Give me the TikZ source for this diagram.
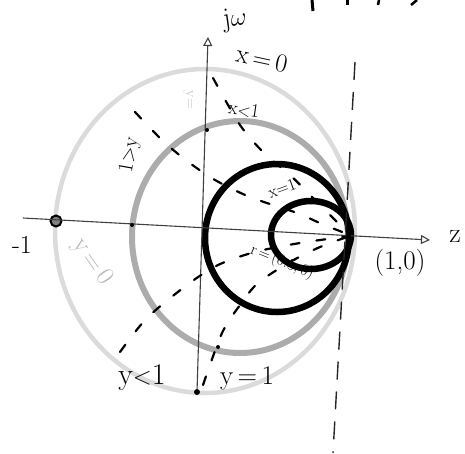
\documentclass[tikz,border=0pt]{standalone}
\usetikzlibrary{arrows.meta}
\begin{document}
\begin{tikzpicture}[x=1pt,y=-1pt,
  lbl/.style={font=\fontsize{26}{28}\selectfont, inner sep=0pt},
  sm/.style={font=\fontsize{19}{21}\selectfont, inner sep=0pt},
  axisline/.style={draw=black!75, line width=1.1pt},
  hatch/.style={draw=black, line width=2.2pt, dash pattern=on 9pt off 17pt, line cap=round},
  thickc/.style={draw=black, line width=6.5pt},
  grayc/.style={draw=gray!65, line width=6pt},
  outerc/.style={draw=gray!28, line width=4.5pt},
  tip/.style={-{Triangle[open,length=9pt,width=9pt]}},
]
\useasboundingbox (0,0) rectangle (465,453);
% circles
\draw[outerc] (205,231) ellipse [x radius=150pt, y radius=162pt];
\draw[grayc] (240,237) ellipse [x radius=108pt, y radius=116pt];
\draw[thickc] (277,238) ellipse [x radius=72pt, y radius=74pt];
\draw[thickc] (311,235) ellipse [x radius=40pt, y radius=34pt];
% axes
\coordinate (L) at (23,218);
\coordinate (R) at (430,240);
\coordinate (T) at (208,37);
\node[circle, fill=black, inner sep=0pt, minimum size=6pt] (B) at (197,392) {};
\node[circle, draw=black, line width=2pt, fill=gray, inner sep=0pt, minimum size=11pt] (M) at (56,221) {};
\draw[axisline, tip] (L) -- (R);
\draw[axisline, tip] (B) -- (T);
\node[circle, fill=black, inner sep=0pt, minimum size=4pt] (d1) at (132,225) {};
\node[circle, fill=black, inner sep=0pt, minimum size=4pt] (d2) at (207,130) {};
\node[circle, fill=black, inner sep=0pt, minimum size=4pt] (d3) at (218,347) {};
% dashed vertical line
\coordinate (V1) at (355,62);
\coordinate (V2) at (333,453);
\draw[draw=black!85, line width=1.4pt, dash pattern=on 18pt off 12pt] (V1) -- (V2);
% dashed arcs
\draw[hatch] plot[smooth] coordinates {(135,112) (162,140) (187,161) (215,180) (250,197) (297,213) (322,224) (350,235)};
\draw[hatch] plot[smooth] coordinates {(213,78) (240,125) (264,153) (290,175) (310,195) (330,215) (350,235)};
\draw[hatch] plot[smooth] coordinates {(120,352) (147,318) (187,285) (218,265) (255,252) (300,243) (350,236)};
\draw[hatch] plot[smooth] coordinates {(203,385) (222,333) (240,305) (258,283) (290,262) (320,247) (350,236)};
% top clipped marks
\draw[line width=3pt] (312,0) -- (313,11);
\draw[line width=3pt] (347,0) -- (347,5);
\draw[line width=2.5pt] (379,0) -- (378,5);
\draw[line width=2.5pt] (411,5) -- (417,0);
% labels
\node[lbl, font=\fontsize{28}{30}\selectfont, rotate=8] (jw) at (235,20) {j$\omega$};
\node[lbl, rotate=-12] (x0) at (262,59) {x\,=\,0};
\node[sm, rotate=-8] (xl1) at (244,110) {x$<$1};
\node[sm, font=\fontsize{17}{19}\selectfont, rotate=20] (x1) at (282,188) {x=1};
\node[sm, font=\fontsize{16}{18}\selectfont, rotate=-22] (r) at (282,262) {r\,=\,(0.5,\,0)};
\node[lbl, font=\fontsize{27}{29}\selectfont] (p10) at (400,263) {(1,0)};
\node[lbl, font=\fontsize{28}{30}\selectfont] (z) at (455,236) {z};
\node[lbl] (m1) at (22,245) {-1};
\node[lbl, text=gray!55, rotate=-55] (y0) at (92,262) {y\,=\,0};
\node[sm, font=\fontsize{21}{23}\selectfont, rotate=80] (yg1) at (130,155) {1$>$y};
\node[sm, font=\fontsize{15}{17}\selectfont, text=gray!50, rotate=-90] (yeq) at (188,100) {y=};
\node[lbl, font=\fontsize{30}{32}\selectfont] (yl1) at (142,378) {y$<$1};
\node[lbl, font=\fontsize{27}{29}\selectfont] (y1) at (247,378) {y\,=\,1};
\end{tikzpicture}
\end{document}
